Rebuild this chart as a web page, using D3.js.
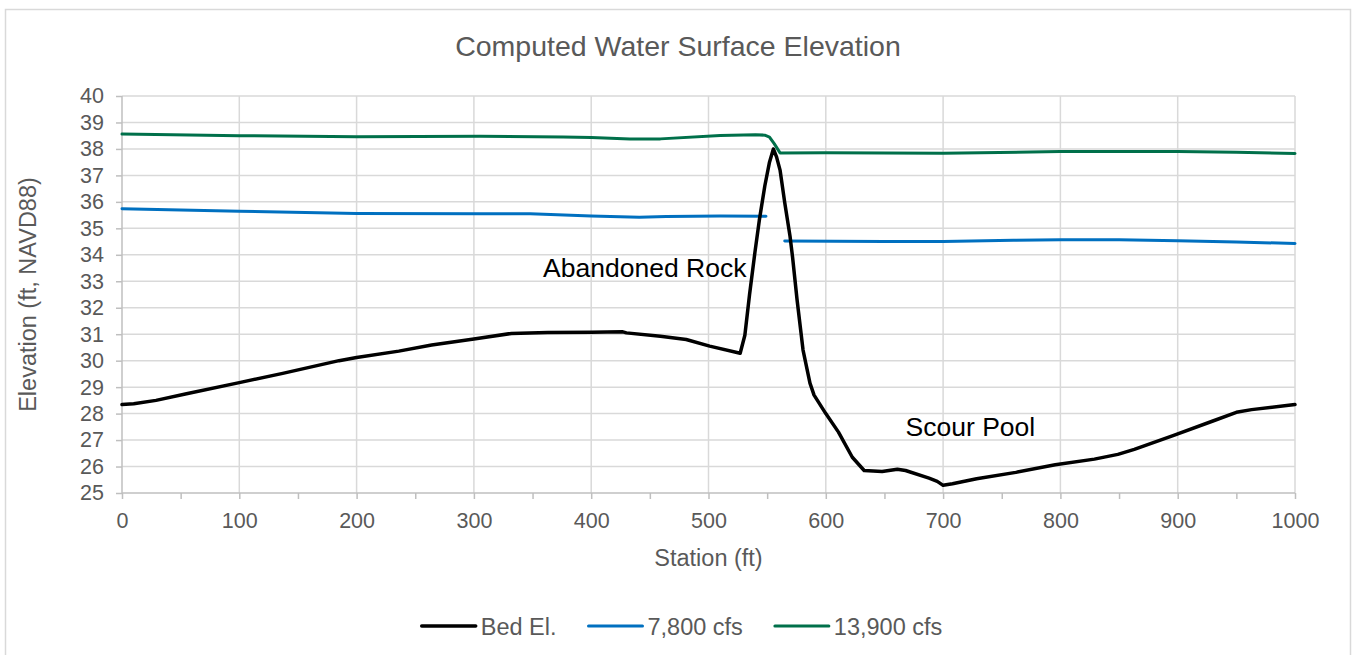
<!DOCTYPE html>
<html>
<head>
<meta charset="utf-8">
<script src="https://d3js.org/d3.v7.min.js"></script>
<style>
  body { margin: 0; background: #fff; }
  text { font-family: "Liberation Sans", Arial, sans-serif; }
</style>
</head>
<body>
<script>
  var width = 1352
  var height = 655

  // Bed elevation along the reach
  var bedStation = [0, 10, 29, 55, 100, 137, 185, 200, 236, 264, 300, 332, 363, 400, 427, 430, 459, 481, 501, 527,
                    531, 535, 539.6, 543.3, 548, 552, 555.3, 558, 561, 565, 569.5, 571.7, 575.5, 580.6, 586.5, 590,
                    600, 610.8, 622.6, 632.7, 648, 661, 668, 688, 695, 700, 708, 728.6, 762, 795.6, 829, 849, 863,
                    896, 930, 950, 963, 1000]
  var bedElev = [28.34, 28.37, 28.5, 28.75, 29.17, 29.52, 30.0, 30.12, 30.36, 30.59, 30.82, 31.03, 31.06, 31.07, 31.09, 31.05, 30.92, 30.8, 30.55, 30.28,
                 30.96, 32.5, 34.1, 35.3, 36.6, 37.5, 38.0, 37.7, 37.2, 35.97, 34.7, 33.9, 32.3, 30.4, 29.15, 28.7,
                 28.0, 27.3, 26.35, 25.85, 25.81, 25.9, 25.85, 25.56, 25.44, 25.29, 25.35, 25.54, 25.78, 26.07, 26.28, 26.46, 26.65,
                 27.17, 27.72, 28.05, 28.15, 28.34]

  // 7,800 cfs water surface (two pieces, break at the rock)
  var q1Station = [0, 100, 200, 305, 348, 400, 441, 464, 510, 549, null, 565, 650, 700, 760, 800, 850, 900, 950, 1000]
  var q1Elev = [35.74, 35.65, 35.56, 35.55, 35.55, 35.47, 35.42, 35.45, 35.47, 35.46, null, 34.52, 34.5, 34.5, 34.55, 34.57, 34.57, 34.53, 34.48, 34.43]

  // 13,900 cfs water surface
  var q2Station = [0, 100, 200, 305, 376, 400, 433, 459, 510, 540, 548, 552, 556, 561, 600, 700, 800, 900, 950, 1000]
  var q2Elev = [38.56, 38.5, 38.46, 38.475, 38.45, 38.43, 38.38, 38.38, 38.51, 38.54, 38.52, 38.45, 38.2, 37.85, 37.86, 37.84, 37.9, 37.9, 37.87, 37.83]

  var seriesNames = ["Bed El.", "7,800 cfs", "13,900 cfs"]
  var seriesColors = ["#000000", "#0070c0", "#00704a"]
  var xTicks = d3.range(0, 1001, 100)
  var xMinorTicks = d3.range(0, 1001, 50)
  var yTicks = d3.range(25, 41, 1)

  var series = [
    { name: seriesNames[0], color: seriesColors[0], w: 3.5, pts: bedStation.map(function(s, i) { return [s, bedElev[i]] }) },
    { name: seriesNames[1], color: seriesColors[1], w: 3, pts: q1Station.map(function(s, i) { return [s, q1Elev[i]] }) },
    { name: seriesNames[2], color: seriesColors[2], w: 3, pts: q2Station.map(function(s, i) { return [s, q2Elev[i]] }) }
  ]

  var plot = { left: 122, right: 1295, top: 96, bottom: 493 }

  var x = d3.scaleLinear().domain([0, 1000]).range([plot.left, plot.right])
  var y = d3.scaleLinear().domain([25, 40]).range([plot.bottom, plot.top])

  var svg = d3.select("body").append("svg")
              .attr("width", width)
              .attr("height", height)

  // chart border
  svg.append("rect")
     .attr("x", 5.5).attr("y", 9.5)
     .attr("width", 1345).attr("height", 700)
     .attr("fill", "#fff")
     .attr("stroke", "#d9d9d9")
     .attr("stroke-width", 1.5)

  var grid = "#d9d9d9"
  var textCol = "#595959"

  // gridlines
  svg.append("g").selectAll("line")
     .data(yTicks.slice(1))
     .enter().append("line")
     .attr("x1", plot.left).attr("x2", plot.right)
     .attr("y1", function(d) { return y(d) }).attr("y2", function(d) { return y(d) })
     .attr("stroke", grid).attr("stroke-width", 1.5)

  svg.append("g").selectAll("line")
     .data(xTicks.slice(1))
     .enter().append("line")
     .attr("x1", function(d) { return x(d) }).attr("x2", function(d) { return x(d) })
     .attr("y1", plot.top).attr("y2", plot.bottom)
     .attr("stroke", grid).attr("stroke-width", 1.5)

  // axes
  var yAxis = svg.append("g")
     .attr("transform", "translate(" + plot.left + ",0)")
     .call(d3.axisLeft(y).tickValues(yTicks).tickSize(6).tickPadding(12))
  var xAxis = svg.append("g")
     .attr("transform", "translate(0," + plot.bottom + ")")
     .call(d3.axisBottom(x).tickValues(xMinorTicks).tickSize(6).tickPadding(14)
             .tickFormat(function(d) { return d % 100 === 0 ? d : "" }))

  ;[yAxis, xAxis].forEach(function(a) {
    a.select(".domain").attr("stroke", "#bfbfbf").attr("stroke-width", 1.5)
    a.selectAll(".tick line").attr("stroke", "#bfbfbf").attr("stroke-width", 1.5)
    a.selectAll(".tick text").attr("fill", textCol).style("font-size", "21.5px")
       .style("font-family", "'Liberation Sans', Arial, sans-serif")
  })
  yAxis.select(".domain").attr("d", "M" + 0 + "," + plot.top + "V" + plot.bottom)
  xAxis.select(".domain").attr("d", "M" + plot.left + ",0H" + plot.right)

  // lines
  var line = d3.line()
               .defined(function(d) { return d[0] !== null })
               .x(function(d) { return x(d[0]) })
               .y(function(d) { return y(d[1]) })

  svg.append("g").selectAll("path")
     .data([series[1], series[2], series[0]])
     .enter().append("path")
     .attr("d", function(d) { return line(d.pts) })
     .attr("fill", "none")
     .attr("stroke", function(d) { return d.color })
     .attr("stroke-width", function(d) { return d.w })
     .attr("stroke-linejoin", "round")
     .attr("stroke-linecap", "round")

  // titles
  svg.append("text")
     .attr("x", 678).attr("y", 56)
     .attr("text-anchor", "middle")
     .attr("fill", textCol)
     .style("font-size", "28.5px")
     .text("Computed Water Surface Elevation")

  svg.append("text")
     .attr("x", (plot.left + plot.right) / 2).attr("y", 566)
     .attr("text-anchor", "middle")
     .attr("fill", textCol)
     .style("font-size", "23.5px")
     .text("Station (ft)")

  svg.append("text")
     .attr("transform", "translate(36," + (plot.top + plot.bottom) / 2 + ") rotate(-90)")
     .attr("text-anchor", "middle")
     .attr("fill", textCol)
     .style("font-size", "23.5px")
     .text("Elevation (ft, NAVD88)")

  // annotations
  svg.append("text")
     .attr("x", x(359)).attr("y", y(33.15))
     .attr("fill", "#000")
     .style("font-size", "26.5px")
     .text("Abandoned Rock")

  svg.append("text")
     .attr("x", x(668)).attr("y", y(27.15))
     .attr("fill", "#000")
     .style("font-size", "26.5px")
     .text("Scour Pool")

  // legend
  var legend = svg.append("g")
  var lx = 0
  series.forEach(function(s, i) {
    var g = legend.append("g").attr("transform", "translate(" + lx + ",0)")
    g.append("line")
     .attr("x1", 0).attr("x2", 54).attr("y1", 0).attr("y2", 0)
     .attr("stroke", s.color).attr("stroke-width", s.w).attr("stroke-linecap", "round")
    var t = g.append("text")
     .attr("x", 59).attr("y", 8.5)
     .attr("fill", textCol)
     .style("font-size", "23.5px")
     .text(s.name)
    lx += 59 + t.node().getComputedTextLength() + 32
  })
  var legendW = lx - 32
  legend.attr("transform", "translate(" + (682 - legendW / 2) + ",626)")
</script>
</body>
</html>
